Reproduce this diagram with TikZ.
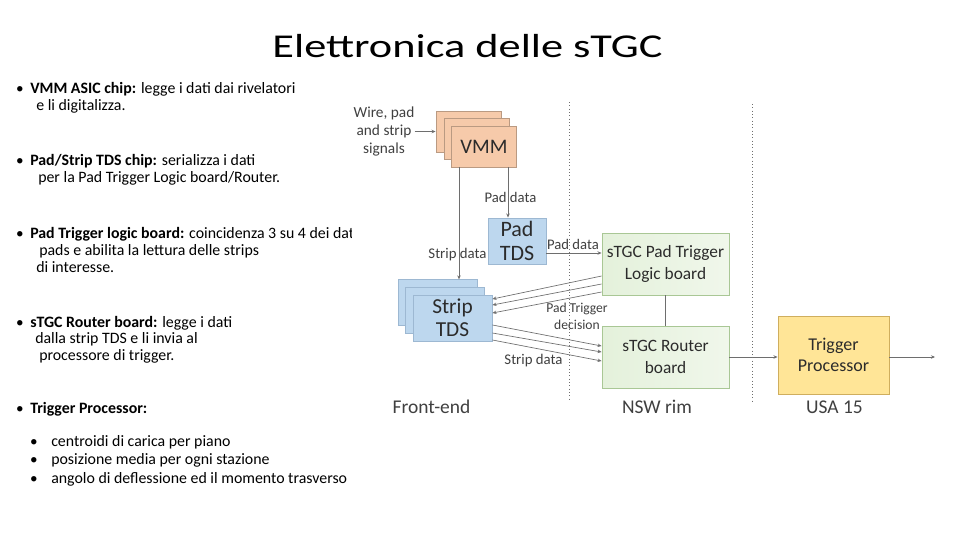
\documentclass[tikz,border=0pt]{standalone}
\usepackage{fontspec}
\setmainfont{Carlito}
\newfontfamily\titlefont[FakeStretch=1.33]{Carlito}
\usetikzlibrary{arrows.meta}
\definecolor{vmmfill}{HTML}{F6CAAA}
\definecolor{vmmline}{HTML}{BA9A82}
\definecolor{tdsfill}{HTML}{BDD7EE}
\definecolor{tdsline}{HTML}{9DB8D2}
\definecolor{grnfill}{HTML}{E4F1DB}
\definecolor{grnfill2}{HTML}{F0F7EB}
\definecolor{grnline}{HTML}{A9C795}
\definecolor{yelfill}{HTML}{FFE597}
\definecolor{yelline}{HTML}{CFAE5E}
\definecolor{linegray}{HTML}{6E6E6E}
\definecolor{labgray}{HTML}{404040}
\definecolor{boxtext}{HTML}{2B2B2B}
\tikzset{
  btxt/.style={anchor=base west, inner sep=0pt, font=\fontsize{11.9}{13}\selectfont},
  bdot/.style={anchor=base, inner sep=0pt, font=\fontsize{11.4}{13}\selectfont},
  lab/.style={inner sep=0pt, text=labgray, align=center},
  boxbase/.style={inner sep=0pt, align=center, text=boxtext, line width=0.7pt},
  vmmbox/.style={boxbase, draw=vmmline, fill=vmmfill, minimum width=48.75pt, minimum height=30.75pt, font=\fontsize{15.5}{18}\selectfont},
  tdsbox/.style={boxbase, draw=tdsline, fill=tdsfill},
  grnbox/.style={boxbase, draw=grnline, left color=grnfill, right color=grnfill2, minimum width=95.25pt, minimum height=46.5pt, font=\fontsize{13}{16.5}\selectfont},
  yelbox/.style={boxbase, draw=yelline, fill=yelfill, minimum width=83.25pt, minimum height=58.5pt, font=\fontsize{13.5}{15.75}\selectfont},
  conn/.style={draw=linegray, line width=0.5pt},
  arr/.style={conn, -{Stealth[length=3pt,width=2.6pt]}},
  sep/.style={draw=linegray, line width=0.5pt, dotted}
}
\begin{document}
\begin{tikzpicture}[x=0.75pt,y=-0.75pt]
\fill[white] (0,0) rectangle (960,540);
\useasboundingbox (0,0) rectangle (960,540);

% title
\node[anchor=base, inner sep=0pt, font=\titlefont\fontsize{25}{28}\selectfont] (title) at (467.5,57) {Elettronica delle sTGC};

% bullets
\node[bdot] (d1) at (20,93) {\textbullet};
\node[btxt] (b1a) at (30,93) {\textbf{VMM ASIC chip:} legge i dati dai rivelatori};
\node[btxt] (b1b) at (36,110) {e li digitalizza.};

\node[bdot] (d2) at (20,165) {\textbullet};
\node[btxt] (b2a) at (30,165) {\textbf{Pad/Strip TDS chip:} serializza i dati};
\node[btxt] (b2b) at (38,182) {per la Pad Trigger Logic board/Router.};

\node[bdot] (d3) at (20,238) {\textbullet};
\begin{scope}
\clip (0,0) rectangle (351,540);
\node[btxt] (b3a) at (30,238) {\textbf{Pad Trigger logic board:} coincidenza 3 su 4 dei dati dei};
\end{scope}
\node[btxt] (b3b) at (39,255) {pads e abilita la lettura delle strips};
\node[btxt] (b3c) at (36,272) {di interesse.};

\node[bdot] (d4) at (20,327) {\textbullet};
\node[btxt] (b4a) at (30,327) {\textbf{sTGC Router board:} legge i dati};
\node[btxt] (b4b) at (35,343.5) {dalla strip TDS e li invia al};
\node[btxt] (b4c) at (39,360) {processore di trigger.};

\node[bdot] (d5) at (20,413) {\textbullet};
\node[btxt] (b5a) at (30,413) {\textbf{Trigger Processor:}};

\node[bdot] (d6) at (34,446) {\textbullet};
\node[btxt] (b6) at (51,446) {centroidi di carica per piano};
\node[bdot] (d7) at (34,464.5) {\textbullet};
\node[btxt] (b7) at (51,464.5) {posizione media per ogni stazione};
\node[bdot] (d8) at (34,483) {\textbullet};
\node[btxt] (b8) at (51,483) {angolo di deflessione ed il momento trasverso};

% separators
\coordinate (s1t) at (569,102);
\coordinate (s1b) at (569,399);
\coordinate (s2t) at (752,104);
\coordinate (s2b) at (752,402);
\draw[sep] (s1t) -- (s1b);
\draw[sep] (s2t) -- (s2b);

% input text
\node[lab, font=\fontsize{11.5}{13.5}\selectfont] (wire) at (384,131.5) {Wire, pad\\and strip\\signals};

% VMM stack
\node[vmmbox] (vmm3) at (468.5,131.5) {};
\node[vmmbox] (vmm2) at (476.5,138.5) {};
\node[vmmbox] (vmm1) at (484,146.5) {VMM};
\draw[arr] (wire.east) -- (vmm3.west);

% Pad TDS
\node[tdsbox, minimum width=43.5pt, minimum height=34.5pt, font=\fontsize{16.5}{18}\selectfont] (padtds) at (517,241) {Pad\\TDS};

% Strip TDS stack
\node[tdsbox, minimum width=59.25pt, minimum height=34pt] (strip3) at (437.5,302.5) {};
\node[tdsbox, minimum width=59.25pt, minimum height=34.5pt] (strip2) at (445,310) {};
\node[tdsbox, minimum width=59.25pt, minimum height=34.5pt, font=\fontsize{16}{17.25}\selectfont] (strip1) at (452.5,318) {Strip\\TDS};

% green boards
\node[grnbox] (ptl) at (665.5,264) {sTGC Pad Trigger\\Logic board};
\node[grnbox] (router) at (665.5,357) {sTGC Router\\board};

% trigger processor
\node[yelbox] (tp) at (833.5,355) {Trigger\\Processor};
\coordinate (out) at (935,357);

% connectors
\draw[arr] ([xshift=18pt]vmm1.south) coordinate (pv) -- (pv |- padtds.north);
\draw[arr] ([xshift=-18.75pt]vmm1.south) coordinate (sv) -- (sv |- strip3.north);
\draw[arr] ([yshift=-9pt]padtds.east) coordinate (pp) -- (pp -| ptl.west);
\draw[conn] (ptl.south) -- (router.north);
\draw[arr] (router.east) -- (router.east -| tp.west);
\draw[arr] (tp.east |- router.east) -- (out);

\draw[arr] ([yshift=-9pt]ptl.west) -- ([yshift=14.25pt]strip1.east);
\draw[arr] ([yshift=-15pt]ptl.west) -- ([yshift=9.75pt]strip1.east);
\draw[arr] ([yshift=-21pt]ptl.west) -- ([yshift=3.75pt]strip1.east);

\draw[arr] ([yshift=-5.25pt]strip1.east) -- ([yshift=8.25pt]router.west);
\draw[arr] ([yshift=-11.25pt]strip1.east) -- ([yshift=3.75pt]router.west);
\draw[arr] ([yshift=-16.5pt]strip1.east) -- ([yshift=-3pt]router.west);

% connector labels
\node[lab, font=\fontsize{11}{13}\selectfont] (l1) at (510.5,197) {Pad data};
\node[lab, font=\fontsize{11.1}{13}\selectfont] (l2) at (457.5,255) {Strip data};
\node[lab, font=\fontsize{11}{13}\selectfont] (l3) at (573,244) {Pad data};
\node[lab, font=\fontsize{10.2}{12.4}\selectfont] (l4) at (577,316.5) {Pad Trigger\\decision};
\node[lab, font=\fontsize{11.1}{13}\selectfont] (l5) at (533.5,360.5) {Strip data};

% region labels
\node[lab, font=\fontsize{14.6}{16}\selectfont] (r1) at (431.5,407) {Front-end};
\node[lab, font=\fontsize{14.6}{16}\selectfont] (r2) at (657,407) {NSW rim};
\node[lab, font=\fontsize{14.6}{16}\selectfont] (r3) at (834.5,407) {USA 15};
\end{tikzpicture}
\end{document}
